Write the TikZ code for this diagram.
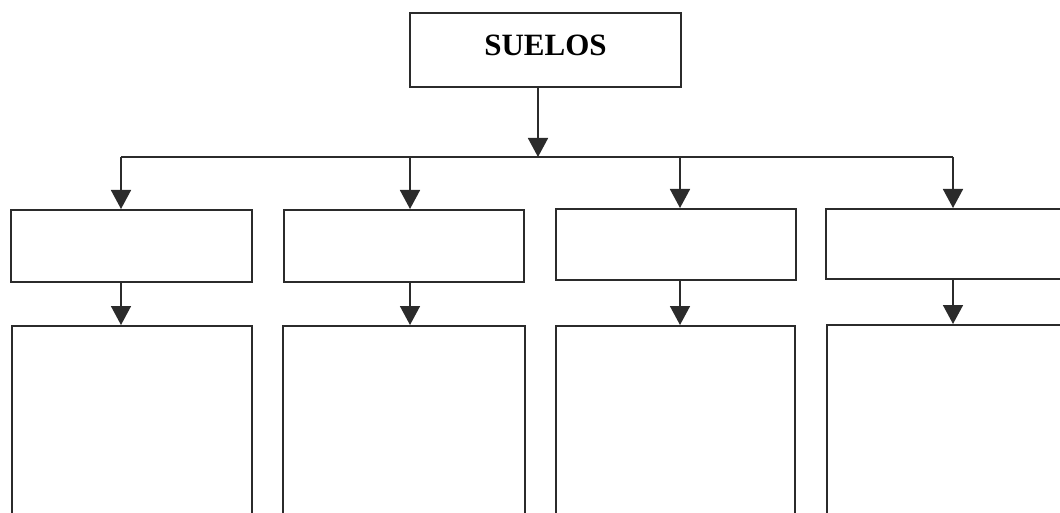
\documentclass[tikz,border=0pt]{standalone}
\usepackage{fontspec}
\setmainfont{Liberation Serif}
\usetikzlibrary{arrows.meta}
\definecolor{ink}{HTML}{2B2B2B}
\tikzset{
  box/.style={draw=ink, line width=1.6pt, rectangle, inner sep=0pt, anchor=north west},
  link/.style={draw=ink, line width=1.6pt},
  arr/.style={link, -{Triangle[length=19pt,width=20pt]}},
}
\begin{document}
\begin{tikzpicture}[x=1pt, y=-1pt]
  \useasboundingbox (0,0) rectangle (1060,513);
  \clip (0,0) rectangle (1060,513);
  \fill[white] (0,0) rectangle (1060,513);

  % root
  \node[box, minimum width=271pt, minimum height=74pt, anchor=center,
        font=\fontsize{31}{36}\selectfont\bfseries, text height=22pt, text depth=11pt]
        (top) at (545.5,50) {SUELOS};

  % second row
  \node[box, minimum width=241pt, minimum height=72pt] (m1) at (10,209) {};
  \node[box, minimum width=240pt, minimum height=72pt] (m2) at (283,209) {};
  \node[box, minimum width=240pt, minimum height=71pt] (m3) at (555,208) {};
  \node[box, minimum width=242pt, minimum height=70pt] (m4) at (825,208) {};

  % third row (runs past the lower edge)
  \node[box, minimum width=240pt, minimum height=260pt] (b1) at (11,325) {};
  \node[box, minimum width=242pt, minimum height=260pt] (b2) at (282,325) {};
  \node[box, minimum width=239pt, minimum height=260pt] (b3) at (555,325) {};
  \node[box, minimum width=242pt, minimum height=260pt] (b4) at (826,324) {};

  % distribution bar
  \coordinate (hub) at (538,157);
  \coordinate (j1) at (121,157);
  \coordinate (j2) at (410,157);
  \coordinate (j3) at (680,157);
  \coordinate (j4) at (953,157);

  \draw[arr] (top.south -| hub) -- (hub);
  \draw[link] (j1) -- (j4);
  \foreach \i in {1,...,4} {
    \draw[arr] (j\i) -- (j\i |- m\i.north);
    \draw[arr] (j\i |- m\i.south) -- (j\i |- b\i.north);
  }
\end{tikzpicture}
\end{document}
